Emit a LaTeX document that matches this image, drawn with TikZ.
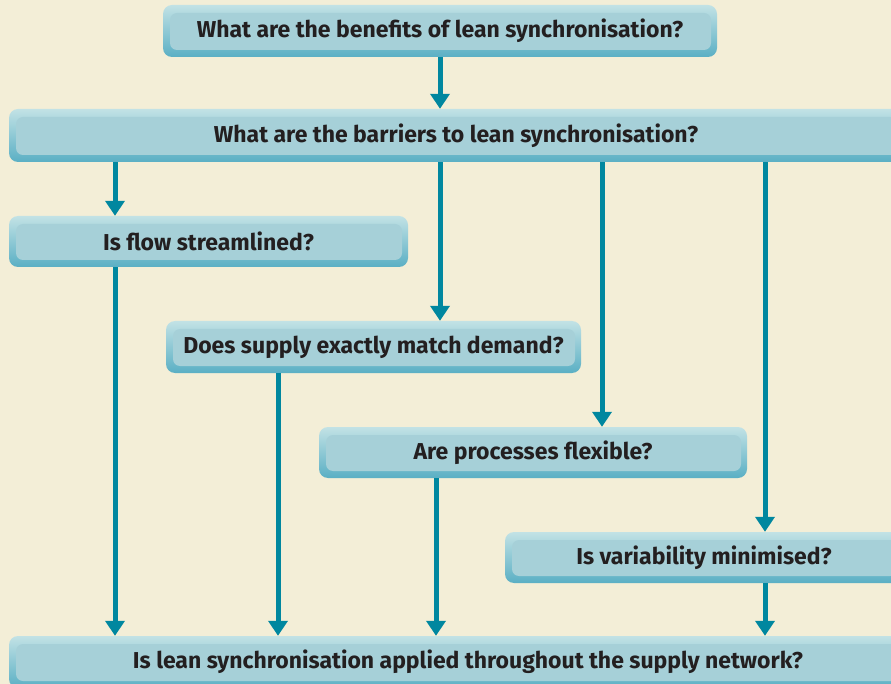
\documentclass[tikz,border=0pt]{standalone}
\usepackage{fontspec}
\setmainfont{Fira Sans}
\usetikzlibrary{arrows.meta}

\definecolor{paper}{HTML}{F3EED7}
\definecolor{boxface}{HTML}{A6D0D8}
\definecolor{boxtop}{HTML}{C2E2E5}
\definecolor{boxbottom}{HTML}{5AAFC4}
\definecolor{flowline}{HTML}{00879F}
\definecolor{qtext}{HTML}{231F20}

\begin{document}
\begin{tikzpicture}[x=1pt, y=-1pt,
    question/.style={rounded corners=9pt, top color=boxtop, bottom color=boxbottom,
        minimum height=52pt, inner sep=0pt, text=qtext,
        font=\bfseries\fontsize{23}{27}\selectfont,
        path picture={\fill[boxface, rounded corners=7pt]
            ([xshift=7pt, yshift=7pt]path picture bounding box.south west) rectangle
            ([xshift=-6pt, yshift=-8pt]path picture bounding box.north east);}},
    flowarrow/.style={line width=5pt, flowline, -{Triangle[width=19pt, length=15pt]}}]

    % Page
    \useasboundingbox (0,0) rectangle (891,684);
    \fill[paper] (0,0) rectangle (891,684);

    % Questions
    \node[question, minimum width=554pt] (benefits) at (440,31)
        {What are the benefits of lean synchronisation?};
    \node[question, minimum width=894pt, minimum height=53pt] (barriers) at (456,135.5)
        {What are the barriers to lean synchronisation?};
    \node[question, minimum width=399pt, minimum height=51pt] (flow) at (208.5,241.5)
        {Is flow streamlined?};
    \node[question, minimum width=415pt] (supply) at (373.5,347)
        {Does supply exactly match demand?};
    \node[question, minimum width=428pt, minimum height=51pt] (processes) at (533,452.5)
        {Are processes flexible?};
    \node[question, minimum width=398pt, minimum height=51pt] (variability) at (704,557.5)
        {Is variability minimised?};
    \node[question, minimum width=918pt] (network) at (468,662)
        {Is lean synchronisation applied throughout the supply network?};

    % Columns of the arrows
    \coordinate (c1) at (115,0);
    \coordinate (c2) at (440,0);
    \coordinate (c3) at (602,0);
    \coordinate (c4) at (765,0);
    \coordinate (d2) at (278,0);
    \coordinate (d3) at (436,0);

    % Arrows down from the barriers
    \draw[flowarrow] (benefits.south) -- (benefits.south |- barriers.north);
    \draw[flowarrow] (c1 |- barriers.south) -- (c1 |- flow.north);
    \draw[flowarrow] (c2 |- barriers.south) -- (c2 |- supply.north);
    \draw[flowarrow] (c3 |- barriers.south) -- (c3 |- processes.north);
    \draw[flowarrow] (c4 |- barriers.south) -- (c4 |- variability.north);

    % Arrows into the network question
    \draw[flowarrow] (c1 |- flow.south) -- (c1 |- network.north);
    \draw[flowarrow] (d2 |- supply.south) -- (d2 |- network.north);
    \draw[flowarrow] (d3 |- processes.south) -- (d3 |- network.north);
    \draw[flowarrow] (c4 |- variability.south) -- (c4 |- network.north);

\end{tikzpicture}
\end{document}
